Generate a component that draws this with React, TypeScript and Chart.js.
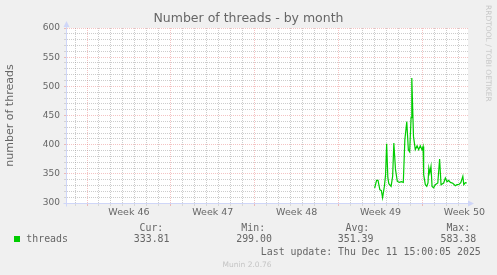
import React, { useEffect, useRef } from 'react';
import { Chart, registerables } from 'chart.js';

Chart.register(...registerables);

// x values are days since Monday of week 46 (Nov 10)
const dayOffsets = [
  24.01, 24.17, 24.29, 24.44, 24.57, 24.67, 24.82, 24.92, 25.01, 25.11,
  25.19, 25.38, 25.51, 25.61, 25.75, 25.9, 26.07, 26.24, 26.4, 26.53,
  26.69, 26.82, 26.93, 27.05, 27.11, 27.25, 27.4, 27.55, 27.68, 27.82,
  27.96, 28.05, 28.1, 28.24, 28.36, 28.46, 28.53, 28.61, 28.71, 28.8,
  28.93, 29.07, 29.28, 29.43, 29.55, 29.77, 29.91, 30.05, 30.18, 30.33,
  30.53, 30.74, 30.88, 31.04, 31.2, 31.37, 31.45, 31.58, 31.7,
];
const threadValues = [
  325.7, 338.7, 338.7, 322.8, 321.1, 309.1, 328.5, 348.5, 401.7, 343.4,
  333.1, 328.5, 345.6, 402.9, 357.1, 337.0, 335.3, 336.5, 335.3, 408.5,
  439.4, 391.4, 387.9, 446.2, 514.3, 414.2, 391.4, 398.2, 391.4, 398.2,
  391.4, 397.0, 348.5, 331.4, 328.5, 334.3, 360.0, 351.4, 362.7, 328.5,
  326.2, 331.4, 334.3, 375.4, 331.4, 334.3, 342.9, 336.5, 338.7, 335.3,
  333.9, 329.7, 331.4, 331.9, 334.8, 345.6, 331.4, 334.8, 334.3,
];
const weekLabels = ['Week 46', 'Week 47', 'Week 48', 'Week 49', 'Week 50'];
const weekStarts = [0, 7, 14, 21, 28];
const weekLabelPositions = [3.5, 10.5, 17.5, 24.5, 31.5];
const dayGrid = Array.from({ length: 33 }, (_, i) => i - 1); // -1 .. 31
const yMin = 300;
const yMax = 600;
const yStep = 10;
const yLabelStep = 50;

const legendName = 'threads';
const statHeaders = ['Cur:', 'Min:', 'Avg:', 'Max:'];
const statValues = ['333.81', '299.00', '351.39', '583.38'];
const lastUpdate = 'Last update: Thu Dec 11 15:00:05 2025';
const versionText = 'Munin 2.0.76';
const watermark = 'RRDTOOL / TOBI OETIKER';

const FONT_COLOR = '#666666';
const AXIS_COLOR = '#CFD6F8';
const GRID_COLOR = 'rgba(143,143,143,0.45)';
const MGRID_COLOR = 'rgba(222,79,79,0.34)';
const LINE_COLOR = '#00CC00';

const isWeekStart = (v: number) => weekStarts.includes(v);
const isLabelPos = (v: number) => weekLabelPositions.some((p) => Math.abs(p - v) < 1e-6);

const bgPlugin = {
  id: 'muninBg',
  beforeDraw(chart: any) {
    const { ctx, chartArea } = chart;
    ctx.save();
    ctx.fillStyle = '#F0F0F0';
    ctx.fillRect(0, 0, chart.width, chart.height);
    ctx.fillStyle = '#FFFFFF';
    ctx.fillRect(chartArea.left, chartArea.top, chartArea.right - chartArea.left, chartArea.bottom - chartArea.top);
    ctx.restore();
  },
  afterDraw(chart: any) {
    const { ctx, chartArea } = chart;
    const l = Math.round(chartArea.left) - 0.5;
    const b = Math.round(chartArea.bottom) + 0.5;
    ctx.save();
    ctx.strokeStyle = AXIS_COLOR;
    ctx.fillStyle = AXIS_COLOR;
    ctx.lineWidth = 1;
    ctx.beginPath();
    ctx.moveTo(l, b + 3);
    ctx.lineTo(l, chartArea.top - 3);
    ctx.moveTo(l - 3, b);
    ctx.lineTo(chartArea.right + 2, b);
    ctx.stroke();
    // arrow up
    ctx.beginPath();
    ctx.moveTo(l, chartArea.top - 7);
    ctx.lineTo(l - 3, chartArea.top - 1);
    ctx.lineTo(l + 3, chartArea.top - 1);
    ctx.closePath();
    ctx.fill();
    // arrow right
    ctx.beginPath();
    ctx.moveTo(chartArea.right + 6, b);
    ctx.lineTo(chartArea.right, b - 3);
    ctx.lineTo(chartArea.right, b + 3);
    ctx.closePath();
    ctx.fill();
    ctx.restore();
  },
};

function MuninChart() {
  const canvasRef = useRef<HTMLCanvasElement | null>(null);

  useEffect(() => {
    const canvas = canvasRef.current;
    if (!canvas) return;
    const xTicks = [...dayGrid, ...weekLabelPositions].sort((a, b) => a - b);
    const yTicks: number[] = [];
    for (let v = yMin; v <= yMax; v += yStep) yTicks.push(v);

    const chart = new Chart(canvas, {
      type: 'line',
      data: {
        datasets: [
          {
            label: legendName,
            data: dayOffsets.map((d, i) => ({ x: d, y: threadValues[i] })),
            borderColor: LINE_COLOR,
            borderWidth: 1.2,
            pointRadius: 0,
            fill: false,
            tension: 0,
          },
        ],
      },
      options: {
        animation: false,
        responsive: false,
        devicePixelRatio: 1,
        layout: { padding: { left: 0, right: 0, top: 0, bottom: 0 } },
        plugins: {
          legend: { display: false },
          tooltip: { enabled: false },
          title: {
            display: true,
            text: 'Number of threads - by month',
            color: FONT_COLOR,
            font: { family: 'DejaVu Sans', size: 12.5, weight: 'normal' },
            padding: { top: 11.5, bottom: 1.5 },
          },
        },
        scales: {
          x: {
            type: 'linear',
            min: -1.67,
            max: 31.8,
            afterBuildTicks: (axis: any) => {
              axis.ticks = xTicks.map((v) => ({ value: v }));
            },
            afterFit: (axis: any) => {
              axis.height = 72;
            },
            ticks: {
              autoSkip: false,
              maxRotation: 0,
              minRotation: 0,
              padding: 1,
              color: FONT_COLOR,
              font: { family: 'DejaVu Sans', size: 9.5 },
              callback: (value: any) => {
                const idx = weekLabelPositions.findIndex((p) => Math.abs(p - Number(value)) < 1e-6);
                return idx >= 0 ? weekLabels[idx] : '';
              },
            },
            grid: {
              drawTicks: true,
              tickLength: 3,
              lineWidth: (c: any) => (isLabelPos(c.tick?.value) ? 0 : 1),
              color: (c: any) => (isWeekStart(c.tick?.value) ? MGRID_COLOR : GRID_COLOR),
              tickColor: (c: any) => (isWeekStart(c.tick?.value) ? MGRID_COLOR : 'rgba(143,143,143,0.25)'),
            },
            border: { display: false, dash: [1, 1] },
          },
          y: {
            type: 'linear',
            position: 'left',
            min: yMin,
            max: yMax,
            afterBuildTicks: (axis: any) => {
              axis.ticks = yTicks.map((v) => ({ value: v }));
            },
            afterFit: (axis: any) => {
              axis.width = 67;
            },
            title: {
              display: true,
              text: 'number of threads',
              color: FONT_COLOR,
              font: { family: 'DejaVu Sans', size: 11 },
              padding: { top: 4, bottom: 0 },
            },
            ticks: {
              autoSkip: false,
              padding: 4,
              color: FONT_COLOR,
              font: { family: 'DejaVu Sans', size: 9 },
              callback: (value: any) => (Number(value) % yLabelStep === 0 ? String(value) : ''),
            },
            grid: {
              drawTicks: true,
              tickLength: 3,
              lineWidth: 1,
              color: (c: any) => (c.tick && c.tick.value % yLabelStep === 0 ? MGRID_COLOR : GRID_COLOR),
              tickColor: (c: any) => (c.tick && c.tick.value % yLabelStep === 0 ? MGRID_COLOR : 'rgba(143,143,143,0.3)'),
            },
            border: { display: false, dash: [1, 1] },
          },
          yRightSpacer: {
            type: 'linear',
            position: 'right',
            min: yMin,
            max: yMax,
            afterFit: (axis: any) => {
              axis.width = 29;
            },
            ticks: { display: false },
            grid: { display: false, drawTicks: false },
            border: { display: false },
            title: { display: false },
          },
        },
      } as any,
      plugins: [bgPlugin],
    });
    return () => chart.destroy();
  }, []);

  return <canvas ref={canvasRef} width={497} height={275} style={{ position: 'absolute', left: 0, top: 0, width: 497, height: 275 }} />;
}

const mono: React.CSSProperties = {
  position: 'absolute',
  fontFamily: '"DejaVu Sans Mono", monospace',
  fontSize: 9.9,
  lineHeight: '9.9px',
  color: FONT_COLOR,
  whiteSpace: 'pre',
};

const headerLefts = [139.5, 241.3, 345.5, 446.4];
const valueLefts = [133.8, 236.2, 337.8, 440.5];

export default function App() {
  return (
    <div style={{ position: 'fixed', left: 0, top: 0, width: 497, height: 275, background: '#F0F0F0', overflow: 'hidden' }}>
      <MuninChart />
      <div style={{ position: 'absolute', left: 14, top: 236, width: 6, height: 6, background: LINE_COLOR }} />
      <span style={{ ...mono, left: 26.3, top: 234.2 }}>{legendName}</span>
      {statHeaders.map((h, i) => (
        <span key={'h' + i} style={{ ...mono, left: headerLefts[i], top: 223.2 }}>{h}</span>
      ))}
      {statValues.map((v, i) => (
        <span key={'v' + i} style={{ ...mono, left: valueLefts[i], top: 234.2 }}>{v}</span>
      ))}
      <span style={{ ...mono, left: 260.8, top: 246.7 }}>{lastUpdate}</span>
      <span
        style={{
          position: 'absolute',
          left: 222.5,
          top: 260.7,
          fontFamily: '"DejaVu Sans", sans-serif',
          fontSize: 7.5,
          lineHeight: '7.5px',
          color: '#C4C4C4',
          whiteSpace: 'pre',
        }}
      >
        {versionText}
      </span>
      <span
        style={{
          position: 'absolute',
          left: 492.2,
          top: 4.5,
          fontFamily: '"DejaVu Sans", sans-serif',
          fontSize: 7.5,
          lineHeight: '7.5px',
          color: '#C8C8C8',
          whiteSpace: 'pre',
          transformOrigin: '0 0',
          transform: 'rotate(90deg)',
        }}
      >
        {watermark}
      </span>
    </div>
  );
}
